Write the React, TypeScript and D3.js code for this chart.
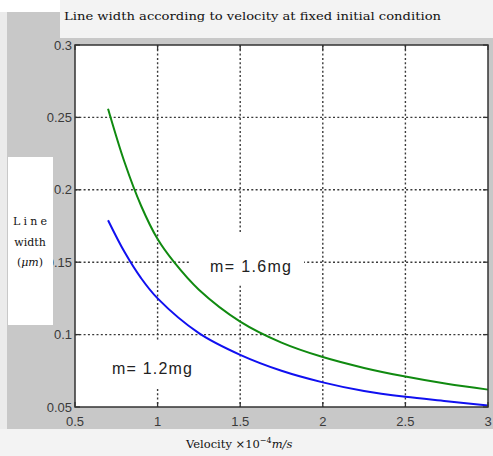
import React from "react";
import * as d3 from "d3";

const title = "Line width according to velocity at fixed initial condition";
const xTicks = [0.5, 1, 1.5, 2, 2.5, 3];
const xTickLabels = ["0.5", "1", "1.5", "2", "2.5", "3"];
const yTicks = [0.05, 0.1, 0.15, 0.2, 0.25, 0.3];
const yTickLabels = ["0.05", "0.1", "0.15", "0.2", "0.25", "0.3"];

const greenV = [0.7, 0.8, 0.9, 1.0, 1.1, 1.25, 1.5, 1.75, 2.0, 2.25, 2.5, 2.75, 3.0];
const greenW = [0.256, 0.219, 0.189, 0.166, 0.15, 0.131, 0.109, 0.0945, 0.0845, 0.077, 0.071, 0.066, 0.062];
const blueV = [0.7, 0.8, 0.9, 1.0, 1.25, 1.5, 1.75, 2.0, 2.25, 2.5, 2.75, 3.0];
const blueW = [0.179, 0.157, 0.139, 0.125, 0.101, 0.086, 0.075, 0.067, 0.061, 0.057, 0.054, 0.051];

const labelGreen = "m= 1.6mg";
const labelBlue = "m= 1.2mg";

export default function App() {
  const W = 493, H = 456;
  const L = 75, R = 488, T = 45, B = 407;
  const x = d3.scaleLinear().domain([0.5, 3]).range([L, R]);
  const y = d3.scaleLinear().domain([0.05, 0.3]).range([B, T]);
  const line = d3.line<[number, number]>().x(d => x(d[0])).y(d => y(d[1])).curve(d3.curveCatmullRom.alpha(0.5));
  const gPts = greenV.map((v, i) => [v, greenW[i]] as [number, number]);
  const bPts = blueV.map((v, i) => [v, blueW[i]] as [number, number]);
  const gridStyle = { stroke: "#3a3a3a", strokeWidth: 1.4, strokeDasharray: "2,2.3" };
  const tickFont = "'Liberation Sans', Arial, sans-serif";
  const serif = "'DejaVu Serif', 'Liberation Serif', serif";

  return (
    <svg width={W} height={H} style={{ position: "absolute", left: 0, top: 0 }}>
      <rect x={0} y={0} width={W} height={H} fill="#ffffff" />
      <rect x={0} y={12} width={7} height={H - 12} fill="#ebebeb" />
      <rect x={7} y={12} width={W - 7} height={417} fill="#c8c8c8" />
      <rect x={60} y={0} width={W - 60} height={38} fill="#f3f3f3" />
      <rect x={0} y={429} width={W} height={H - 429} fill="#f3f3f3" />
      <text x={64} y={20} fontFamily={serif} fontSize={11.5} fill="#111" textLength={377} lengthAdjust="spacingAndGlyphs">{title}</text>

      {/* plot area */}
      <rect x={L} y={T} width={R - L} height={B - T} fill="#ffffff" />
      {xTicks.slice(1, -1).map(t => (
        <line key={"gx" + t} x1={x(t)} x2={x(t)} y1={T} y2={B} style={gridStyle} />
      ))}
      {yTicks.slice(1, -1).map(t => (
        <line key={"gy" + t} x1={L} x2={R} y1={y(t)} y2={y(t)} style={gridStyle} />
      ))}

      {/* text backgrounds */}
      <rect x={190} y={232} width={114} height={52} fill="#ffffff" />
      <rect x={102} y={340} width={100} height={47} fill="#ffffff" />

      <path d={line(gPts) || ""} fill="none" stroke="#108a10" strokeWidth={2} />
      <path d={line(bPts) || ""} fill="none" stroke="#1010f0" strokeWidth={2} />

      <text x={210} y={272} fontFamily={tickFont} fontSize={16} fill="#222" textLength={81} lengthAdjust="spacing">{labelGreen}</text>
      <text x={112} y={374} fontFamily={tickFont} fontSize={16} fill="#222" textLength={80} lengthAdjust="spacing">{labelBlue}</text>

      {/* frame */}
      <rect x={L} y={T} width={R - L} height={B - T} fill="none" stroke="#333" strokeWidth={1.5} />
      {xTicks.map(t => (
        <g key={"tx" + t}>
          <line x1={x(t)} x2={x(t)} y1={B} y2={B - 5} stroke="#333" strokeWidth={1.3} />
          <line x1={x(t)} x2={x(t)} y1={T} y2={T + 5} stroke="#333" strokeWidth={1.3} />
        </g>
      ))}
      {yTicks.map(t => (
        <g key={"ty" + t}>
          <line x1={L} x2={L + 5} y1={y(t)} y2={y(t)} stroke="#333" strokeWidth={1.3} />
          <line x1={R} x2={R - 5} y1={y(t)} y2={y(t)} stroke="#333" strokeWidth={1.3} />
        </g>
      ))}
      {xTicks.map((t, i) => (
        <text key={"xl" + t} x={x(t)} y={426} textAnchor="middle" fontFamily={tickFont} fontSize={13} fill="#3a3a3a">{xTickLabels[i]}</text>
      ))}
      {yTicks.map((t, i) => (
        <text key={"yl" + t} x={72} y={y(t) + 4.5} textAnchor="end" fontFamily={tickFont} fontSize={13} fill="#3a3a3a">{yTickLabels[i]}</text>
      ))}

      {/* y label */}
      <rect x={8} y={157} width={45} height={168} fill="#ffffff" />
      <text x={30} y={225} textAnchor="middle" fontFamily={serif} fontSize={11} fill="#111" textLength={34} lengthAdjust="spacing">Line</text>
      <text x={30} y={246} textAnchor="middle" fontFamily={serif} fontSize={11} fill="#111">width</text>
      <text x={30} y={266} textAnchor="middle" fontFamily={serif} fontSize={11} fill="#111">(<tspan fontStyle="italic">μm</tspan>)</text>

      {/* x label */}
      <text x={186} y={448} fontFamily={serif} fontSize={11.5} fill="#111">
        Velocity  ×10<tspan dy={-5} fontSize={8}>−4</tspan><tspan dy={5} fontStyle="italic">m/s</tspan>
      </text>
    </svg>
  );
}
